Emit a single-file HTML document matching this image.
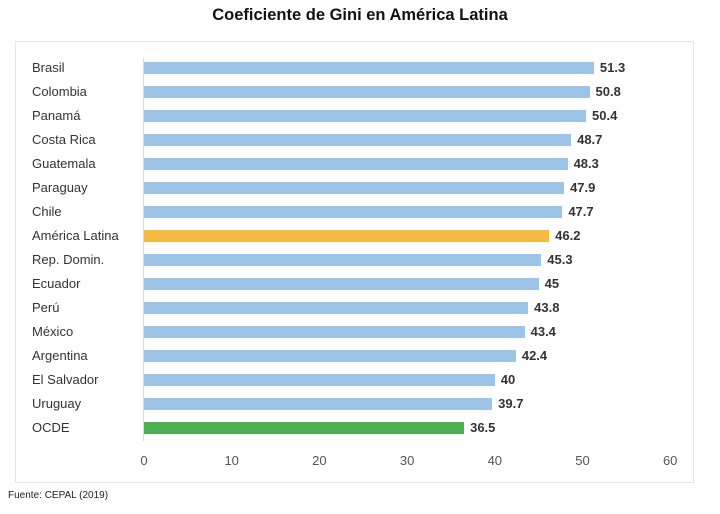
<!DOCTYPE html>
<html><head><meta charset="utf-8"><style>
body{margin:0;width:720px;height:514px;background:#fff;font-family:"Liberation Sans",sans-serif;position:relative;overflow:hidden}
.t{position:absolute;left:0;width:720px;top:6px;text-align:center;font-weight:bold;font-size:16.5px;color:#111}
.box{position:absolute;left:15px;top:41px;width:679px;height:442px;border:1px solid #e6e6e6;box-sizing:border-box}
.ax{position:absolute;left:143px;top:58px;width:1px;height:383px;background:#d9d9d9}
.l{position:absolute;left:32px;font-size:13px;color:#333;line-height:14px}
.b{position:absolute;left:144px;height:12px;background:#9dc3e6}
.v{position:absolute;font-size:13px;font-weight:bold;color:#333;line-height:14px}
.x{position:absolute;top:453px;font-size:13px;color:#555;width:40px;text-align:center}
.f{position:absolute;left:8px;top:490px;font-size:10px;color:#222}
</style></head><body>
<div class="t">Coeficiente de Gini en América Latina</div>
<div class="box"></div>
<div class="ax"></div>
<div id="c"></div>
<script>
const d=[["Brasil",51.3],["Colombia",50.8],["Panamá",50.4],["Costa Rica",48.7],["Guatemala",48.3],["Paraguay",47.9],["Chile",47.7],["América Latina",46.2],["Rep. Domin.",45.3],["Ecuador",45],["Perú",43.8],["México",43.4],["Argentina",42.4],["El Salvador",40],["Uruguay",39.7],["OCDE",36.5]];
let h="";const s=8.77;
d.forEach((r,i)=>{const cy=68+i*24;const w=r[1]*s;
const col=r[0]=="América Latina"?"#f4b942":r[0]=="OCDE"?"#4caf50":"#9dc3e6";
h+=`<div class="l" style="top:${cy-7}px">${r[0]}</div><div class="b" style="top:${cy-6}px;width:${w}px;background:${col}"></div><div class="v" style="top:${cy-7}px;left:${144+w+6}px">${r[1]}</div>`;});
for(let k=0;k<=6;k++)h+=`<div class="x" style="left:${144+k*10*s-20}px">${k*10}</div>`;
document.getElementById("c").innerHTML=h;
</script>
<div class="f">Fuente: CEPAL (2019)</div>
</body></html>
